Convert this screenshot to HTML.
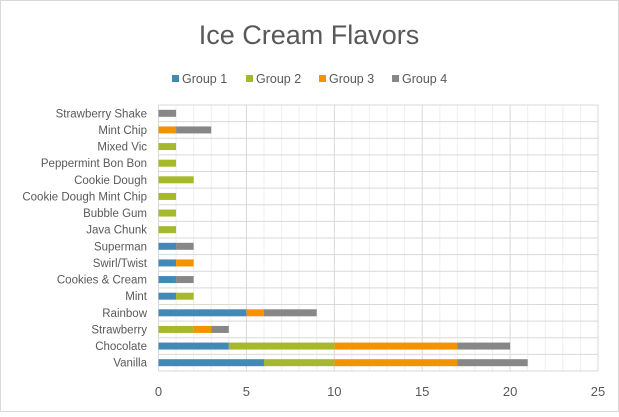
<!DOCTYPE html>
<html><head><meta charset="utf-8"><style>
body{margin:0;background:#fff;}
svg text{font-family:"Liberation Sans",sans-serif;fill:#595959;}
</style></head><body>
<svg id="c" width="619" height="412" xmlns="http://www.w3.org/2000/svg">
<rect x="0.5" y="0.5" width="618" height="411" fill="#fff" stroke="#d9d9d9"/>
<text x="309" y="44" font-size="27" text-anchor="middle">Ice Cream Flavors</text>
<g id="legend"></g>
<g id="grid"></g>
<g id="bars"></g>
<g id="labels"></g>
<g id="ticks"></g>
</svg>
<script>
const categories=["Vanilla","Chocolate","Strawberry","Rainbow","Mint","Cookies & Cream","Swirl/Twist","Superman","Java Chunk","Bubble Gum","Cookie Dough Mint Chip","Cookie Dough ","Peppermint Bon Bon","Mixed Vic","Mint Chip","Strawberry Shake"];
const group1=[6,4,0,5,1,1,1,1,0,0,0,0,0,0,0,0];
const group2=[4,6,2,0,1,0,0,0,1,1,1,2,1,1,0,0];
const group3=[7,7,1,1,0,0,1,0,0,0,0,0,0,0,1,0];
const group4=[4,3,1,3,0,1,0,1,0,0,0,0,0,0,2,1];
const seriesNames=["Group 1","Group 2","Group 3","Group 4"];
const colors=["#4389b6","#a5b92a","#f59200","#878787"];
const xTicks=[0,5,10,15,20,25];
const NS="http://www.w3.org/2000/svg";
const x0=158.5,x1=598,yTop=105,yBot=371,xMax=25;
const xs=v=>x0+v/xMax*(x1-x0);
const band=(yBot-yTop)/categories.length;
const yc=i=>yBot-(i+0.5)*band;
function mk(tag,attrs,parent){const e=document.createElementNS(NS,tag);for(const k in attrs)e.setAttribute(k,attrs[k]);parent.appendChild(e);return e;}
const grid=document.getElementById('grid');
for(let v=1;v<=xMax;v++){if(v%5===0)continue;const l=mk('line',{x1:xs(v),x2:xs(v),y1:yTop,y2:yBot,stroke:'#efefef','stroke-width':1},grid);

}
for(let i=0;i<=categories.length;i++){const y=yBot-i*band;const l=mk('line',{x1:x0,x2:x1,y1:y,y2:y,stroke:'#d9d9d9','stroke-width':1},grid);

}
xTicks.forEach(v=>{const l=mk('line',{x1:xs(v),x2:xs(v),y1:yTop,y2:yBot,stroke:'#d9d9d9','stroke-width':1},grid);


const t=mk('text',{x:xs(v),y:396,'font-size':13,'text-anchor':'middle'},document.getElementById('ticks'));t.textContent=v;

});
const series=[group1,group2,group3,group4];
const bars=document.getElementById('bars');
categories.forEach((c,i)=>{let acc=0;series.forEach((s,k)=>{if(s[i]>0){const r=mk('rect',{x:xs(acc),y:yc(i)-3.5,width:xs(acc+s[i])-xs(acc),height:7,fill:colors[k]},bars);

}acc+=s[i];});
const t=mk('text',{x:147,y:yc(i)+4,'font-size':11.5,'text-anchor':'end'},document.getElementById('labels'));t.textContent=c;

});
const lg=document.getElementById('legend');const lx=[172,246,319,392];
seriesNames.forEach((n,k)=>{const r=mk('rect',{x:lx[k],y:75,width:7,height:7,fill:colors[k]},lg);


const t=mk('text',{x:lx[k]+10,y:83,'font-size':12.5},lg);t.textContent=n;

});
</script>
</body></html>
